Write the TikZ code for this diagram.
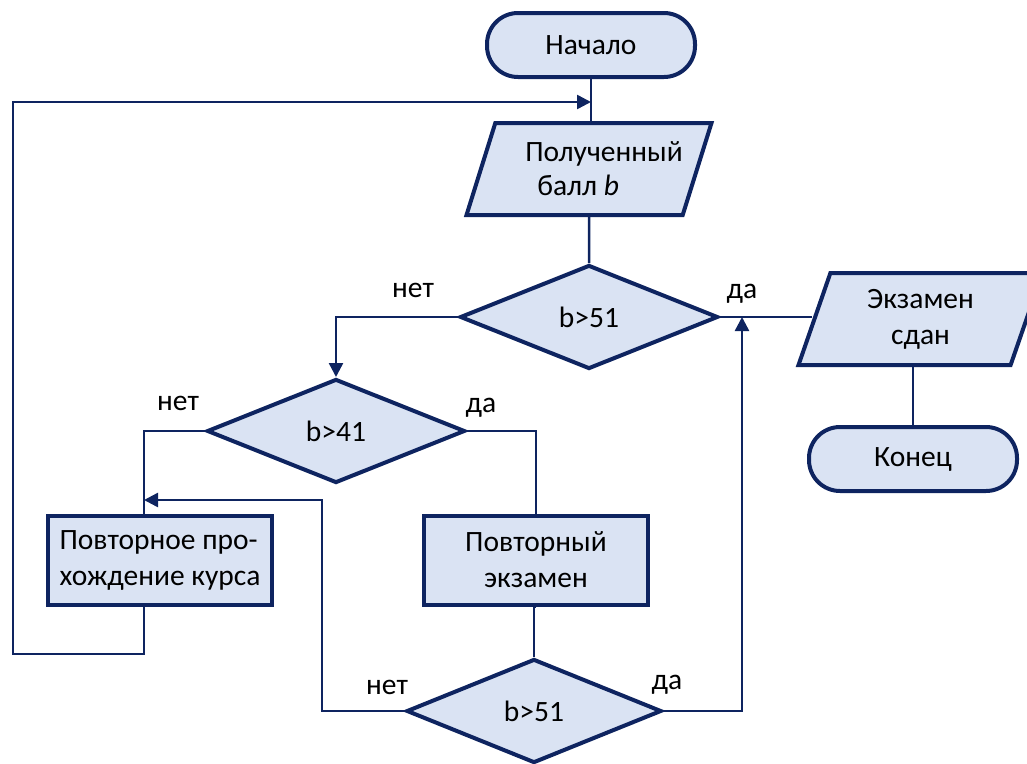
\documentclass[tikz,border=0pt]{standalone}
\usepackage{fontspec}
\setmainfont{Carlito}
\usetikzlibrary{shapes.geometric,arrows.meta}
\definecolor{navy}{RGB}{14,36,96}
\definecolor{paleblue}{RGB}{218,227,243}

\begin{document}
\begin{tikzpicture}[x=1pt,y=-1pt,
  every node/.style={font=\fontsize{29.5}{36}\selectfont, text=black},
  shapeline/.style={draw=navy, line width=4pt, fill=paleblue, inner sep=0pt},
  terminal/.style={shapeline, rectangle, rounded corners=31pt, minimum width=208pt, minimum height=64pt},
  process/.style={shapeline, rectangle, minimum width=224pt, minimum height=89pt, align=left},
  io/.style={shapeline, trapezium, trapezium left angle=62, trapezium right angle=118,
             trapezium stretches body, minimum width=244pt, minimum height=92pt, align=center},
  decision/.style={shapeline, diamond, minimum width=258pt, minimum height=104pt},
  flow/.style={draw=navy, line width=2.5pt},
  arrow/.style={flow, -{Triangle[length=14pt,width=14pt]}},
  lbl/.style={anchor=base}
]
\useasboundingbox (0,0) rectangle (1027,763);

% blocks
\node[terminal] (start) at (591,45) {Начало};
\node[io, align=left, font=\fontsize{29.5}{34}\selectfont] (inp) at (589,169)
  {\hspace*{30pt}Полученный\\\hspace*{42pt}балл \textit{b}};
\node[decision] (d1) at (589,317) {b>51};
\node[io] (pass) at (920.5,319) {Экзамен\\сдан};
\node[terminal] (end) at (913,459) {Конец};
\node[decision] (d2) at (336,431) {b>41};
\node[process] (course) at (160,560) {Повторное про-\\хождение курса};
\node[process, align=center] (retake) at (536,560) {Повторный\\экзамен};
\node[decision, minimum width=255pt] (d3) at (534,711) {b>51};

% junction points of the connectors
\coordinate (loopin) at (591,102);
\coordinate (loopcorner) at (13,654);
\coordinate (jn) at (144,500);
\coordinate (bend) at (322,500);
\coordinate (yesjoin) at (742,317);

% connectors
\draw[flow] (start.south) -- (start.south |- inp.north);
\draw[flow] (inp.south) -- (d1.north);
\draw[arrow] (d1.west) -| (d2.north);
\draw[flow] (d1.east) -- (d1.east -| pass.west);
\draw[flow] (end.north) -- (end.north |- pass.south);
\draw[flow] (d2.west) -| (course.north -| jn);
\draw[flow] (d2.east) -| (retake.north);
\draw[flow] (retake.south) -- (retake.south -| d3.north) -- (d3.north);
\draw[arrow] (d3.west) -| (bend) -- (jn);
\draw[arrow] (d3.east) -| (yesjoin);
\draw[arrow] (course.south -| jn) |- (loopcorner) |- (loopin);

% branch labels
\node[lbl] (l1no) at (413,297) {нет};
\node[lbl] (l1yes) at (742,298) {да};
\node[lbl] (l2no) at (178,410) {нет};
\node[lbl] (l2yes) at (481,412) {да};
\node[lbl] (l3no) at (387,694) {нет};
\node[lbl] (l3yes) at (667,689) {да};
\end{tikzpicture}
\end{document}
